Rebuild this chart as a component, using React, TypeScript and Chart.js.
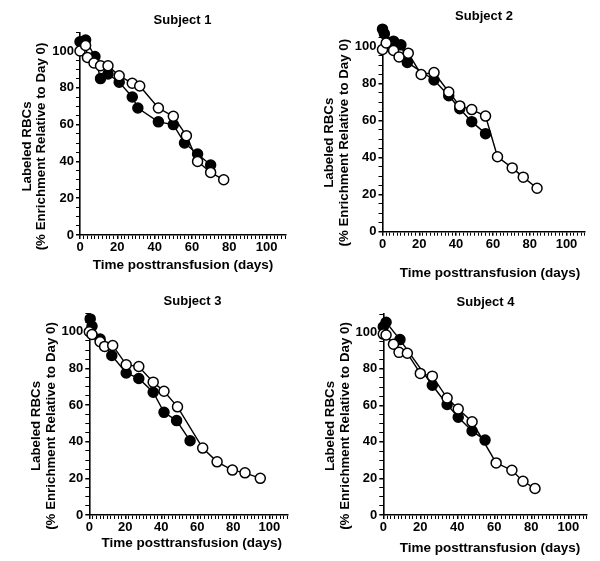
import React, { useEffect, useRef } from 'react';
import { Chart, registerables } from 'chart.js';

Chart.register(...registerables);

// ---------- text ----------
const subjectTitles = ['Subject 1', 'Subject 2', 'Subject 3', 'Subject 4'];
const yTitleLines = ['Labeled RBCs', '(% Enrichment Relative to Day 0)'];
const xTitleText = 'Time posttransfusion (days)';
const xTickLabels = [0, 20, 40, 60, 80, 100];
const yTickLabels = [0, 20, 40, 60, 80, 100];

// ---------- data (days, % enrichment relative to day 0) ----------
const s1FilledDays = [0, 3, 8, 11, 15, 21, 28, 31, 42, 50, 56, 63, 70];
const s1FilledValues = [105, 106, 97, 85, 87.5, 83, 75, 69, 61.5, 60, 50, 44, 38];
const s1OpenDays = [0, 3, 4, 7.5, 11, 15, 21, 28, 32, 42, 50, 57, 63, 70, 77];
const s1OpenValues = [100, 103, 96.5, 93.5, 92, 92, 86.5, 82.5, 81, 69, 64.5, 54, 40, 34, 30];

const s2FilledDays = [0, 1, 6, 10, 13.5, 28, 36, 42, 48.5, 56];
const s2FilledValues = [109.5, 107, 103, 101, 91.5, 82, 73.5, 66.5, 59.5, 53];
const s2OpenDays = [0, 2, 6, 9, 14, 21, 28, 36, 42, 48.5, 56, 62.5, 70.5, 76.5, 84];
const s2OpenValues = [98.5, 102, 98, 94.5, 96.5, 85, 86, 75.5, 68, 66, 62.5, 40.5, 34.5, 29.5, 23.5];

const s3FilledDays = [0.5, 1.5, 6, 12.5, 20.5, 27.5, 35.5, 41.5, 48.5, 56];
const s3FilledValues = [107, 103, 96, 87, 77.5, 74.5, 67, 56, 51.5, 40.5];
const s3OpenDays = [0, 1.5, 6, 8.5, 13, 20.5, 27.5, 35.5, 41.5, 49, 63, 71, 79.5, 86.5, 95];
const s3OpenValues = [100, 98.5, 94.5, 92, 92.5, 82, 81, 72.5, 67.5, 59, 36.5, 29, 24.5, 23, 20];

const s4FilledDays = [0, 1.5, 9, 26.5, 34.5, 40.5, 48, 55];
const s4FilledValues = [103, 105.5, 96, 71, 60.5, 53.5, 46, 41];
const s4OpenDays = [0, 1.5, 5.5, 8.5, 13, 20, 26.5, 34.5, 40.5, 48, 61, 69.5, 75.5, 82];
const s4OpenValues = [99, 98.5, 93.5, 89, 88.5, 77.5, 76, 64, 58, 51, 28.5, 24.5, 18.5, 14.5];

const X_MAX = 110;
const Y_MAX = 110;

// ---------- layout (page coordinates) ----------
type Panel = {
  title: string;
  canvas: { x: number; y: number; w: number; h: number };
  area: { l: number; t: number; r: number; b: number };
  titlePos: { x: number; y: number };
  yTitle: { x1: number; x2: number; y: number };
  xTitle: { x: number; y: number };
  filledDays: number[];
  filledValues: number[];
  openDays: number[];
  openValues: number[];
};

const panels: Panel[] = [
  {
    title: subjectTitles[0],
    canvas: { x: 0, y: 0, w: 300, h: 280 },
    area: { l: 80, t: 32.6, r: 285.3, b: 235 },
    titlePos: { x: 182.5, y: 20 },
    yTitle: { x1: 27, x2: 41.7, y: 146.5 },
    xTitle: { x: 183, y: 265 },
    filledDays: s1FilledDays, filledValues: s1FilledValues,
    openDays: s1OpenDays, openValues: s1OpenValues,
  },
  {
    title: subjectTitles[1],
    canvas: { x: 300, y: 0, w: 300, h: 280 },
    area: { l: 382.5, t: 28.2, r: 584.9, b: 231.7 },
    titlePos: { x: 484, y: 16 },
    yTitle: { x1: 329.5, x2: 344.2, y: 142.7 },
    xTitle: { x: 490, y: 273.3 },
    filledDays: s2FilledDays, filledValues: s2FilledValues,
    openDays: s2OpenDays, openValues: s2OpenValues,
  },
  {
    title: subjectTitles[2],
    canvas: { x: 0, y: 280, w: 300, h: 281 },
    area: { l: 89.3, t: 313.4, r: 287.3, b: 515 },
    titlePos: { x: 192.5, y: 301 },
    yTitle: { x1: 36.3, x2: 51, y: 426 },
    xTitle: { x: 191.7, y: 543.3 },
    filledDays: s3FilledDays, filledValues: s3FilledValues,
    openDays: s3OpenDays, openValues: s3OpenValues,
  },
  {
    title: subjectTitles[3],
    canvas: { x: 300, y: 280, w: 300, h: 281 },
    area: { l: 383.3, t: 314, r: 586.8, b: 515 },
    titlePos: { x: 485.5, y: 302 },
    yTitle: { x1: 330.3, x2: 345, y: 426 },
    xTitle: { x: 490, y: 548.3 },
    filledDays: s4FilledDays, filledValues: s4FilledValues,
    openDays: s4OpenDays, openValues: s4OpenValues,
  },
];

const FONT = '"Liberation Sans", Arial, Helvetica, sans-serif';
const X_AXIS_H = 20;

function toPoints(days: number[], values: number[]) {
  return days.map((d, i) => ({ x: d, y: values[i] }));
}

function PanelChart({ p }: { p: Panel }) {
  const ref = useRef<HTMLCanvasElement | null>(null);

  useEffect(() => {
    if (!ref.current) return;
    const { canvas, area } = p;
    const a = {
      l: area.l - canvas.x,
      t: area.t - canvas.y,
      r: area.r - canvas.x,
      b: area.b - canvas.y,
    };

    const textPlugin = {
      id: 'panelText',
      afterDraw(chart: any) {
        const ctx = chart.ctx as CanvasRenderingContext2D;
        ctx.save();
        ctx.fillStyle = '#000';
        ctx.textAlign = 'center';
        ctx.textBaseline = 'middle';
        // panel title
        ctx.font = `bold 13px ${FONT}`;
        ctx.fillText(p.title, p.titlePos.x - canvas.x, p.titlePos.y - canvas.y);
        // x title
        ctx.font = `bold 13.5px ${FONT}`;
        ctx.fillText(xTitleText, p.xTitle.x - canvas.x, p.xTitle.y - canvas.y);
        // y title (two rotated lines)
        ctx.font = `bold 13.3px ${FONT}`;
        const xs = [p.yTitle.x1, p.yTitle.x2];
        yTitleLines.forEach((line, i) => {
          ctx.save();
          ctx.translate(xs[i] - canvas.x, p.yTitle.y - canvas.y);
          ctx.rotate(-Math.PI / 2);
          ctx.fillText(line, 0, 0);
          ctx.restore();
        });
        ctx.restore();
      },
    };

    const common = {
      showLine: true,
      borderColor: '#000',
      borderWidth: 1.4,
      pointRadius: 5,
      pointBorderColor: '#000',
      pointBorderWidth: 1.5,
      pointHoverRadius: 5,
      clip: false as any,
      tension: 0,
    };

    const chart = new Chart(ref.current, {
      type: 'scatter',
      data: {
        datasets: [
          {
            ...common,
            label: 'open',
            data: toPoints(p.openDays, p.openValues),
            pointBackgroundColor: '#fff',
          },
          {
            ...common,
            label: 'filled',
            data: toPoints(p.filledDays, p.filledValues),
            pointBackgroundColor: '#000',
          },
        ],
      },
      options: {
        responsive: false,
        maintainAspectRatio: false,
        animation: false,
        devicePixelRatio: 1,
        layout: {
          padding: {
            left: 0,
            top: a.t,
            right: canvas.w - a.r,
            bottom: canvas.h - a.b - X_AXIS_H,
          },
        },
        plugins: {
          legend: { display: false },
          tooltip: { enabled: false },
          title: { display: false },
        },
        scales: {
          x: {
            type: 'linear',
            min: 0,
            max: X_MAX,
            afterFit: (s: any) => {
              s.height = X_AXIS_H;
            },
            ticks: {
              stepSize: 2,
              autoSkip: false,
              maxRotation: 0,
              minRotation: 0,
              padding: 1,
              color: '#000',
              font: { family: FONT, size: 13, weight: 'bold' },
              callback: (v: any) => (xTickLabels.includes(Number(v)) ? String(v) : ''),
            },
            grid: {
              display: true,
              drawOnChartArea: false,
              drawTicks: true,
              tickLength: 4,
              color: '#000',
              lineWidth: (c: any) => (c.tick && xTickLabels.includes(c.tick.value) ? 1.5 : 1),
            },
            border: { display: true, color: '#000', width: 1.6 },
          },
          y: {
            type: 'linear',
            min: 0,
            max: Y_MAX,
            afterFit: (s: any) => {
              s.width = a.l;
            },
            ticks: {
              stepSize: 5,
              autoSkip: false,
              padding: 2,
              color: '#000',
              font: { family: FONT, size: 13, weight: 'bold' },
              callback: (v: any) => (yTickLabels.includes(Number(v)) ? String(v) : ''),
            },
            grid: {
              display: true,
              drawOnChartArea: false,
              drawTicks: true,
              tickLength: 4,
              color: '#000',
              lineWidth: (c: any) => (c.tick && yTickLabels.includes(c.tick.value) ? 1.5 : 1),
            },
            border: { display: true, color: '#000', width: 1.6 },
          },
        },
      } as any,
      plugins: [textPlugin],
    });

    return () => chart.destroy();
  }, [p]);

  return (
    <canvas
      ref={ref}
      width={p.canvas.w}
      height={p.canvas.h}
      style={{
        position: 'absolute',
        left: p.canvas.x,
        top: p.canvas.y,
        width: p.canvas.w,
        height: p.canvas.h,
      }}
    />
  );
}

export default function App() {
  return (
    <div
      style={{
        position: 'fixed',
        left: 0,
        top: 0,
        width: 600,
        height: 561,
        background: '#fff',
        overflow: 'hidden',
      }}
    >
      {panels.map((p) => (
        <PanelChart key={p.title} p={p} />
      ))}
    </div>
  );
}
